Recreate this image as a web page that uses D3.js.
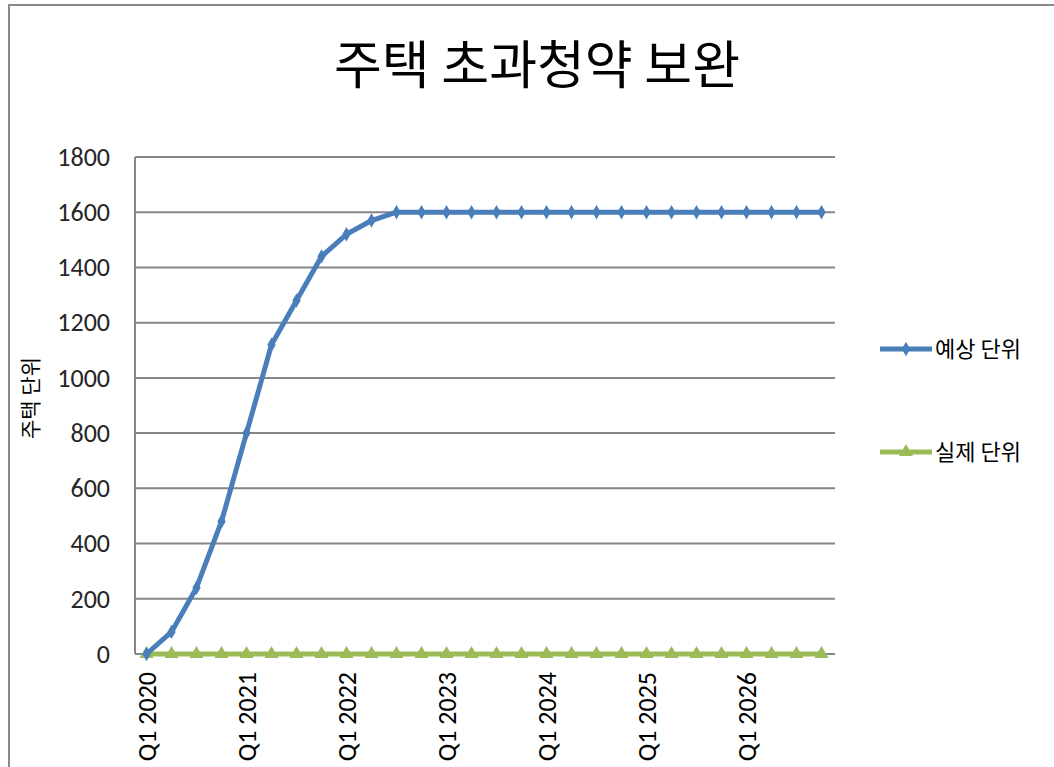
<!DOCTYPE html>
<html>
<head>
<meta charset="utf-8">
<script src="https://cdn.jsdelivr.net/npm/d3@7"></script>
<style>
  html, body { margin: 0; padding: 0; background: #fff; }
  svg { display: block; }
</style>
</head>
<body>
<svg id="chart" width="1054" height="767"></svg>
<script>
// Quarterly periods, Q1 2020 .. Q4 2026
const years = [2020, 2021, 2022, 2023, 2024, 2025, 2026];
const quarters = ["Q1", "Q2", "Q3", "Q4"];
const periods = years.flatMap(y => quarters.map(q => `${q} ${y}`));

// Expected units (예상 단위)
const expectedUnits = [0, 80, 240, 480, 800, 1120, 1280, 1440, 1520, 1570, 1600, 1600,
  1600, 1600, 1600, 1600, 1600, 1600, 1600, 1600, 1600, 1600, 1600, 1600,
  1600, 1600, 1600, 1600];
// Actual units (실제 단위)
const actualUnits = [0, 0, 0, 0, 0, 0, 0, 0, 0, 0, 0, 0,
  0, 0, 0, 0, 0, 0, 0, 0, 0, 0, 0, 0,
  0, 0, 0, 0];

const yTicks = [0, 200, 400, 600, 800, 1000, 1200, 1400, 1600, 1800];
const xTickLabels = years.map(y => `Q1 ${y}`);

const series = [
  { name: "예상 단위", values: expectedUnits, color: "#4a7ebb", marker: "diamond" },
  { name: "실제 단위", values: actualUnits, color: "#9bbb59", marker: "triangle" }
];

const svg = d3.select("#chart");
const numFont = "Carlito, Lato, 'Liberation Sans', sans-serif";
const krFont = "'Noto Sans CJK KR', sans-serif";

// outer frame
svg.append("path")
  .attr("d", "M9,767 V5 H1054")
  .attr("fill", "none")
  .attr("stroke", "#898989")
  .attr("stroke-width", 2);

// title
svg.append("text")
  .attr("x", 537)
  .attr("y", 84)
  .attr("text-anchor", "middle")
  .attr("font-family", krFont)
  .attr("font-size", 52)
  .attr("fill", "#000")
  .text("주택 초과청약 보완");

const x = d3.scalePoint().domain(periods).range([146.5, 821.5]);
const y = d3.scaleLinear().domain([0, 1800]).range([654, 157]);
const plotLeft = 135, plotRight = 835;

// horizontal gridlines
svg.append("g")
  .selectAll("line")
  .data(yTicks.filter(d => d > 0))
  .join("line")
  .attr("x1", plotLeft).attr("x2", plotRight)
  .attr("y1", d => y(d)).attr("y2", d => y(d))
  .attr("stroke", "#868686").attr("stroke-width", 2);

// y axis
const yAxis = svg.append("g")
  .attr("transform", `translate(${plotLeft},0)`)
  .call(d3.axisLeft(y).tickValues(yTicks).tickSize(0).tickPadding(25).tickFormat(d3.format("d")));
yAxis.select(".domain").attr("stroke", "#868686").attr("stroke-width", 2)
  .attr("d", `M0,${y(1800)}V${y(0)}`);
yAxis.selectAll("text")
  .attr("font-family", numFont).attr("font-size", 26).attr("fill", "#262626");

// x axis
const xAxis = svg.append("g")
  .attr("transform", `translate(0,${y(0)})`)
  .call(d3.axisBottom(x).tickValues(xTickLabels).tickSize(0).tickPadding(0));
xAxis.select(".domain").attr("stroke", "#868686").attr("stroke-width", 2)
  .attr("d", `M${plotLeft},0H${plotRight}`);
xAxis.selectAll("text")
  .attr("font-family", numFont).attr("font-size", 26).attr("fill", "#000")
  .attr("text-anchor", "end")
  .attr("dy", "0.35em")
  .attr("transform", "translate(0,18) rotate(-90)")
  .attr("x", 0).attr("y", 0);

// y axis title
svg.append("text")
  .attr("transform", "translate(38,398) rotate(-90)")
  .attr("text-anchor", "middle")
  .attr("font-family", krFont)
  .attr("font-size", 21)
  .attr("fill", "#000")
  .text("주택 단위");

const line = d3.line().x((d, i) => x(periods[i])).y(d => y(d));
const diamond = d3.symbol().type(d3.symbolDiamond).size(60);
const triangle = d3.symbol().type(d3.symbolTriangle).size(85);

// draw actual first so expected sits on top
[...series].reverse().forEach(s => {
  const g = svg.append("g");
  g.append("path")
    .attr("d", line(s.values))
    .attr("fill", "none")
    .attr("stroke", s.color)
    .attr("stroke-width", 5)
    .attr("stroke-linejoin", "round")
    .attr("stroke-linecap", "round");
  g.selectAll("path.m")
    .data(s.values)
    .join("path")
    .attr("class", "m")
    .attr("d", s.marker === "diamond" ? diamond : triangle)
    .attr("transform", (d, i) => `translate(${x(periods[i])},${y(d)})`)
    .attr("fill", s.color);
});

// legend
const legend = svg.append("g");
series.forEach((s, i) => {
  const ly = 349 + i * 103;
  legend.append("line")
    .attr("x1", 880).attr("x2", 932)
    .attr("y1", ly).attr("y2", ly)
    .attr("stroke", s.color).attr("stroke-width", 5);
  legend.append("path")
    .attr("d", s.marker === "diamond" ? diamond : triangle)
    .attr("transform", `translate(906,${ly})`)
    .attr("fill", s.color);
  legend.append("text")
    .attr("x", 935).attr("y", ly + 8)
    .attr("font-family", krFont)
    .attr("font-size", 22)
    .attr("fill", "#000")
    .text(s.name);
});
</script>
</body>
</html>
